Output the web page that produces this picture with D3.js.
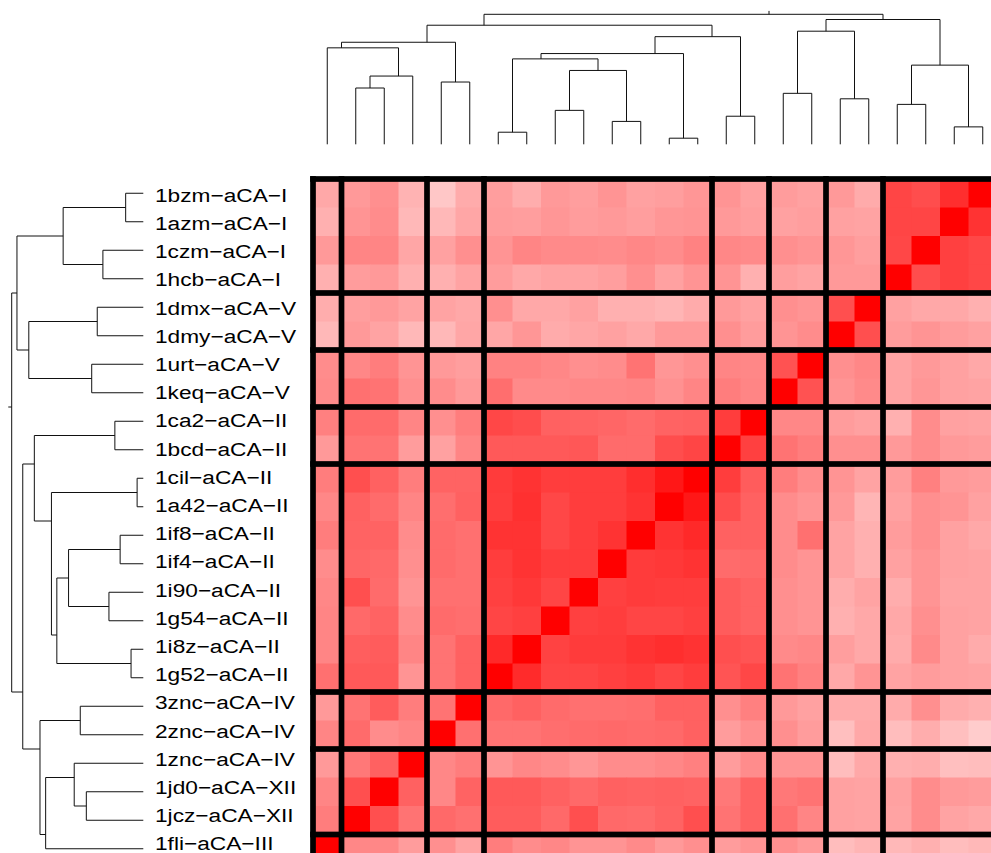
<!DOCTYPE html>
<html>
<head>
<meta charset="utf-8">
<script src="https://cdn.jsdelivr.net/npm/d3@7"></script>
<style>
  html, body { margin: 0; padding: 0; background: #fff; overflow: hidden; }
  svg { display: block; }
  .lab { font-family: "Liberation Sans", Arial, Helvetica, sans-serif; font-size: 18.6px; fill: #000; }
</style>
</head>
<body>
<svg id="chart" width="991" height="853"></svg>
<script>
// Row order of the heatmap (top to bottom); columns run in the reverse order.
const rowLabels = [
  "1bzm−aCA−I", "1azm−aCA−I", "1czm−aCA−I", "1hcb−aCA−I",
  "1dmx−aCA−V", "1dmy−aCA−V", "1urt−aCA−V", "1keq−aCA−V",
  "1ca2−aCA−II", "1bcd−aCA−II", "1cil−aCA−II", "1a42−aCA−II",
  "1if8−aCA−II", "1if4−aCA−II", "1i90−aCA−II", "1g54−aCA−II",
  "1i8z−aCA−II", "1g52−aCA−II", "3znc−aCA−IV", "2znc−aCA−IV",
  "1znc−aCA−IV", "1jd0−aCA−XII", "1jcz−aCA−XII", "1fli−aCA−III"
];
const colLabels = rowLabels.slice().reverse();

// Similarity (%) of each row structure against each column structure.
const m01 = [34,40,44,30,22,33,38,32,40,38,42,37,38,41,42,37,39,37,40,33,73,70,82,100];
const m02 = [31,42,45,28,28,35,39,38,41,39,40,38,41,42,40,38,37,38,37,36,73,73,100,80];
const m03 = [40,48,48,35,37,44,42,48,46,46,45,47,45,49,47,46,44,42,41,38,72,100,75,72];
const m04 = [31,39,40,31,31,36,39,34,36,36,38,44,37,42,42,31,38,36,40,40,100,70,75,72];
const m05 = [32,38,40,36,36,34,44,34,34,37,31,31,29,33,40,37,44,42,69,100,37,34,34,31];
const m06 = [28,40,36,28,28,35,35,41,33,35,37,34,40,40,44,39,42,45,100,69,39,42,39,37];
const m07 = [45,47,51,42,40,38,49,49,47,44,45,55,41,44,48,47,68,100,44,47,36,40,37,34];
const m08 = [46,56,55,44,45,40,57,46,46,47,47,48,43,48,51,48,100,68,42,46,36,41,37,36];
const m09 = [50,58,58,48,44,51,72,70,62,61,60,58,61,62,76,100,47,47,39,37,31,45,37,36];
const m10 = [40,55,55,39,37,48,65,65,65,66,58,58,70,73,100,75,55,51,44,44,40,45,40,39];
const m11 = [51,69,62,51,61,61,77,80,76,76,76,82,91,100,76,64,51,45,42,36,39,50,40,39];
const m12 = [47,62,58,48,57,62,76,81,72,76,76,80,100,91,70,62,45,42,40,29,37,44,42,37];
const m13 = [51,61,61,45,58,56,80,80,72,76,80,100,80,84,62,62,45,56,36,31,39,44,37,34];
const m14 = [45,60,59,44,58,56,76,80,76,76,100,77,78,80,58,59,45,42,36,31,37,42,37,36];
const m15 = [47,69,58,42,56,56,75,78,73,100,75,77,76,76,64,61,44,42,32,36,32,42,36,36];
const m16 = [48,59,61,45,58,57,73,75,100,75,76,73,73,75,64,61,44,42,31,34,34,44,37,36];
const m17 = [48,63,64,48,55,62,84,100,74,77,77,80,82,80,69,67,46,47,38,34,33,46,37,33];
const m18 = [56,65,65,42,55,62,100,83,73,73,75,77,73,76,67,72,55,50,34,42,36,39,37,36];
const m19 = [40,55,64,51,55,100,59,62,58,56,56,57,62,62,44,50,40,37,33,33,33,44,33,31];
const m20 = [48,58,45,48,100,56,55,55,57,58,59,58,59,62,39,44,44,39,25,34,26,32,25,20];
const m21 = [40,53,62,100,47,51,42,47,45,41,45,45,47,50,39,45,42,42,26,34,31,32,25,26];
const m22 = [48,69,100,62,47,61,65,65,62,59,62,61,62,61,53,61,53,55,37,36,37,45,40,39];
const m23 = [51,100,69,55,59,56,64,64,59,69,59,58,61,69,55,61,56,48,37,36,36,45,36,34];
const m24 = [100,47,47,39,44,36,51,45,47,42,42,46,40,44,39,42,44,40,26,29,28,31,26,28];
const matrix = [m01,m02,m03,m04,m05,m06,m07,m08,m09,m10,m11,m12,
                m13,m14,m15,m16,m17,m18,m19,m20,m21,m22,m23,m24];

// Cluster boundaries (number of rows above each separator line).
const rowBreaks = [0, 4, 6, 8, 10, 18, 20, 23, 24];
const colBreaks = rowBreaks.map(b => 24 - b);

// Agglomeration steps: negative = row number (leaf), positive = earlier step; then merge height.
const merges = [
  [-11, -12, 0.047], [-17, -18, 0.093], [-1, -2, 0.134], [-13, -14, 0.176],
  [-9, -10, 0.216], [-15, -16, 0.261], [-3, -4, 0.307], [-5, -6, 0.350],
  [-7, -8, 0.392], [-22, -23, 0.433], [-19, -20, 0.479], [-21, 10, 0.525],
  [4, 6, 0.568], [3, 7, 0.609], [13, 2, 0.657], [1, 15, 0.698],
  [12, -24, 0.742], [11, 17, 0.785], [5, 16, 0.828], [8, 9, 0.870],
  [19, 18, 0.916], [14, 20, 0.960], [22, 21, 1.000]
];

const svg = d3.select("#chart");
const n = rowLabels.length;
const cell = 28.5;
const x0 = 313, y0 = 179;

const x = d3.scaleBand().domain(colLabels).range([x0, x0 + n * cell]);
const y = d3.scaleBand().domain(rowLabels).range([y0, y0 + n * cell]);
const color = d3.scaleLinear().domain([0, 100]).range(["#ffffff", "#ff0000"]);

// Heatmap cells
const cells = [];
matrix.forEach((row, i) => row.forEach((v, j) => cells.push({ r: rowLabels[i], c: colLabels[j], v })));
svg.append("g").selectAll("rect").data(cells).join("rect")
  .attr("x", d => x(d.c)).attr("y", d => y(d.r))
  .attr("width", x.bandwidth() + 0.6).attr("height", y.bandwidth() + 0.6)
  .attr("fill", d => color(d.v));

// Cluster separators
const sepW = 5.7;
const gSep = svg.append("g").attr("fill", "#000");
const edgeX = k => x0 + k * x.step();
const edgeY = k => y0 + k * y.step();
gSep.selectAll(".rs").data(rowBreaks).join("rect").attr("class", "rs")
  .attr("x", x0 - sepW / 2).attr("width", n * cell + sepW)
  .attr("y", d => edgeY(d) - sepW / 2).attr("height", sepW);
gSep.selectAll(".cs").data(colBreaks).join("rect").attr("class", "cs")
  .attr("y", y0 - sepW / 2).attr("height", n * cell + sepW)
  .attr("x", d => edgeX(d) - sepW / 2).attr("width", sepW);

// Build the tree from the merge table
const steps = [];
merges.forEach(([a, b, h]) => {
  const pick = v => v < 0 ? { leaf: -v - 1, h: 0 } : steps[v - 1];
  steps.push({ left: pick(a), right: pick(b), h });
});
const root = steps[steps.length - 1];
function lastLeaf(node) { return node.left ? lastLeaf(node.right) : node.leaf; }
// Position in row units: leaves sit at cell centres, joins at the boundary between their two groups
function pos(node) { return node.left ? lastLeaf(node.left) + 1 : node.leaf + 0.5; }
const stub = 0.026;

// Row dendrogram (left)
const hx = d3.scaleLinear().domain([0, 1]).range([143.3, 11.7]);
const rowPos = p => y0 + p * y.step();
const gL = svg.append("g").attr("fill", "none").attr("stroke", "#111").attr("stroke-width", 1);
gL.selectAll("path").data(steps).join("path")
  .attr("d", d => {
    const a = rowPos(pos(d.left)), b = rowPos(pos(d.right));
    return `M${hx(d.left.h)},${a}H${hx(d.h)}V${b}H${hx(d.right.h)}`;
  });
gL.append("path").attr("d", `M${hx(root.h)},${rowPos(pos(root))}H${hx(root.h + stub)}`);

// Column dendrogram (top)
const hy = d3.scaleLinear().domain([0, 1]).range([144.3, 14.3]);
const colPos = p => x0 + (n - p) * x.step();
const gT = svg.append("g").attr("fill", "none").attr("stroke", "#111").attr("stroke-width", 1);
gT.selectAll("path").data(steps).join("path")
  .attr("d", d => {
    const a = colPos(pos(d.left)), b = colPos(pos(d.right));
    return `M${a},${hy(d.left.h)}V${hy(d.h)}H${b}V${hy(d.right.h)}`;
  });
gT.append("path").attr("d", `M${colPos(pos(root))},${hy(root.h)}V${hy(root.h + stub)}`);

// Row labels, set on their own slightly tighter axis
const yLab = d3.scaleBand().domain(rowLabels).range([180.9, 180.9 + n * 28.2]);
svg.append("g").selectAll("text").data(rowLabels).join("text")
  .attr("class", "lab")
  .attr("transform", d => `translate(155,${yLab(d) + yLab.bandwidth() / 2}) scale(1.22,1)`)
  .attr("dy", "0.36em")
  .text(d => d);
</script>
</body>
</html>
